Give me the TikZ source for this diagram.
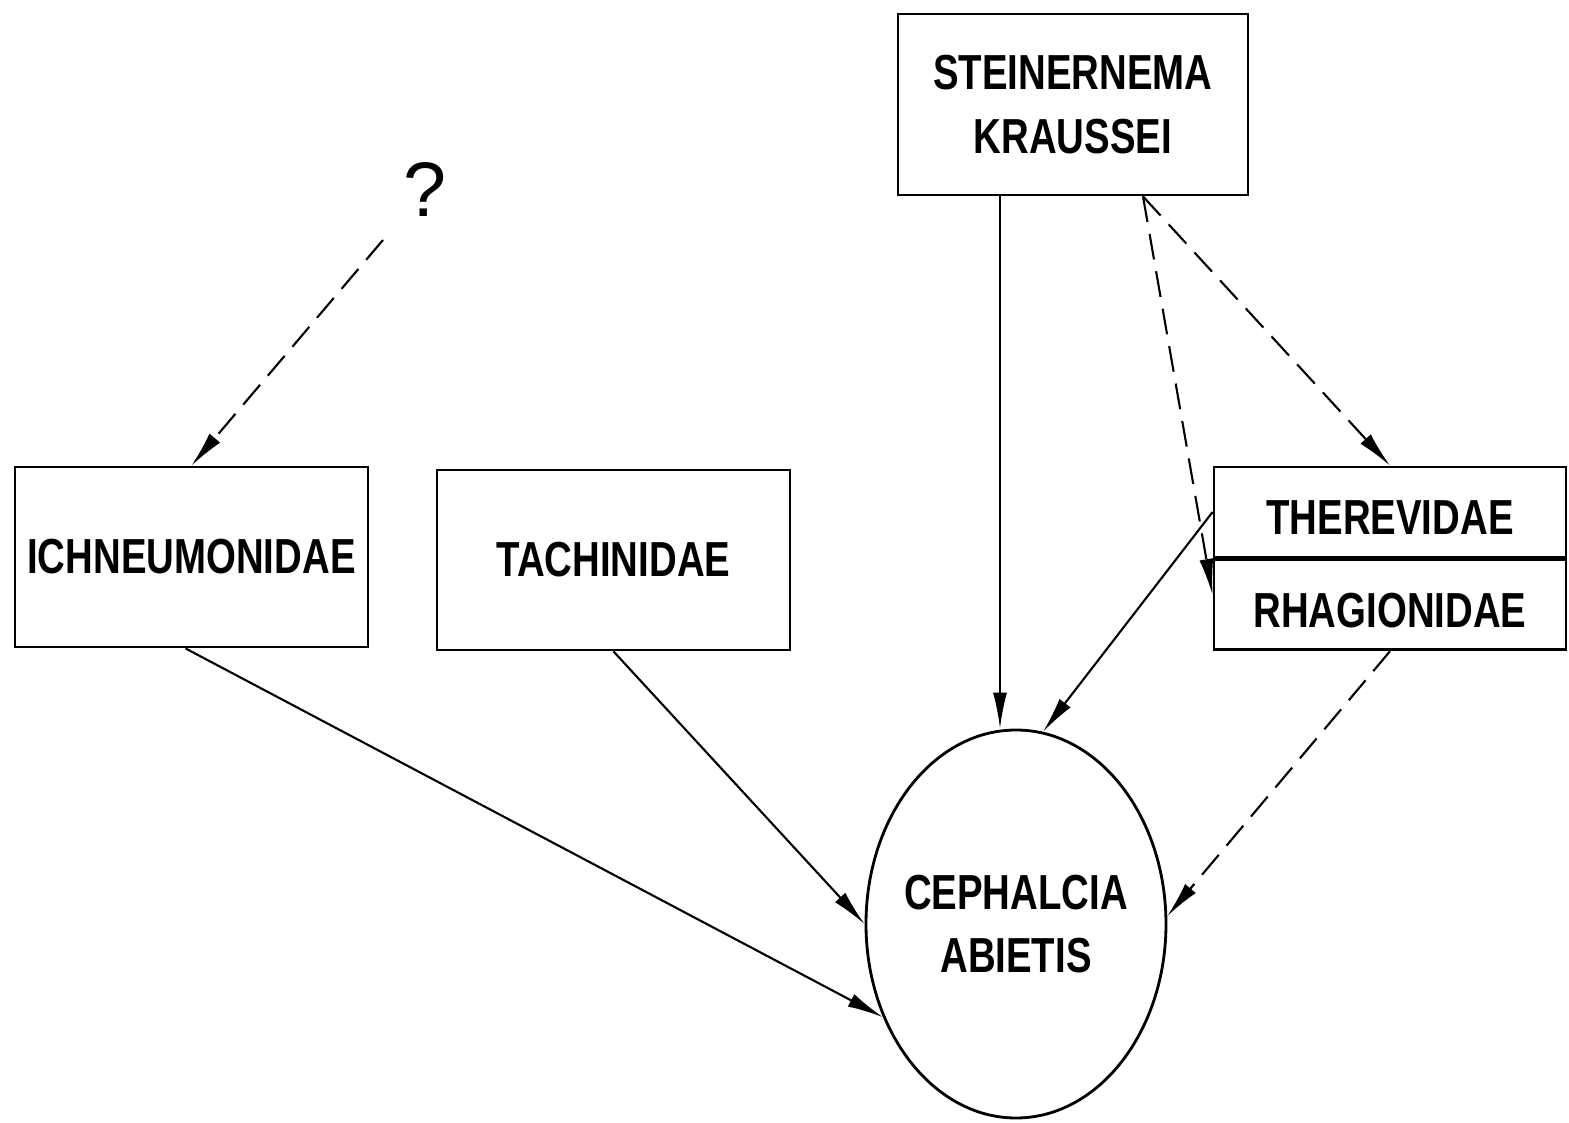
\documentclass[tikz,border=0pt]{standalone}
\usepackage{fontspec}
\setmainfont{Liberation Sans}
\newfontfamily\lblfont{Liberation Sans}[FakeStretch=0.78]
\usetikzlibrary{arrows.meta,shapes.geometric,positioning}
\begin{document}
\begin{tikzpicture}[x=1cm,y=1cm]
      \tikzstyle{taxon} = [draw, line width=0.8pt, inner sep=0pt, align=center,
                           font=\lblfont\bfseries\fontsize{14}{18}\selectfont]
        \tikzstyle{link}=[line width=0.6pt, -{Latex[length=3.6mm,width=1.4mm]}]
        \tikzstyle{maybe}=[link, dash pattern=on 2.6mm off 1.2mm]
          \useasboundingbox (0,0) rectangle (15.69,-11.23);
          \node[taxon, minimum width=3.50cm, minimum height=1.81cm] (steiner)
               at (10.73,-1.045) {STEINERNEMA\\KRAUSSEI};
          \node[taxon, minimum width=3.53cm, minimum height=1.80cm] (ichneu)
               at (1.915,-5.57) {ICHNEUMONIDAE};
          \node[taxon, minimum width=3.53cm, minimum height=1.80cm] (tachin)
               at (6.135,-5.60) {TACHINIDAE};
          \node[taxon, minimum width=3.52cm, minimum height=0.90cm, text height=4.5mm]
               (therev) at (13.90,-5.12) {THEREVIDAE};
          \node[taxon, minimum width=3.52cm, minimum height=0.90cm, text height=4.5mm,
                below=0pt of therev] (rhagio) {RHAGIONIDAE};
          \node[taxon, ellipse, inner xsep=-1mm, minimum width=3.00cm, minimum height=3.88cm]
               (ceph) at (10.16,-9.24) {CEPHALCIA\\ABIETIS};
          \node[font=\fontsize{22}{26}\selectfont] (q) at (4.25,-1.90) {?};
          \coordinate (qtail) at (3.83,-2.40);
          \coordinate (sleft) at ([xshift=-7.3mm]steiner.south);
          \coordinate (sright) at ([xshift=7.0mm]steiner.south);
          \draw[maybe] (qtail) -- (ichneu.north);
          \draw[link] ([xshift=-0.6mm]ichneu.south) -- (ceph.215);
          \draw[link] (tachin.south) -- (ceph.west);
          \draw[link] (sleft) -- (sleft |- ceph.north);
          \draw[maybe] (sright) -- (therev.north);
          \draw[maybe] (sright) -- ([yshift=1mm]rhagio.west);
          \draw[link] (therev.west) -- (ceph.82);
          \draw[maybe] (rhagio.south) -- (ceph.3);
        \end{tikzpicture}
\end{document}
